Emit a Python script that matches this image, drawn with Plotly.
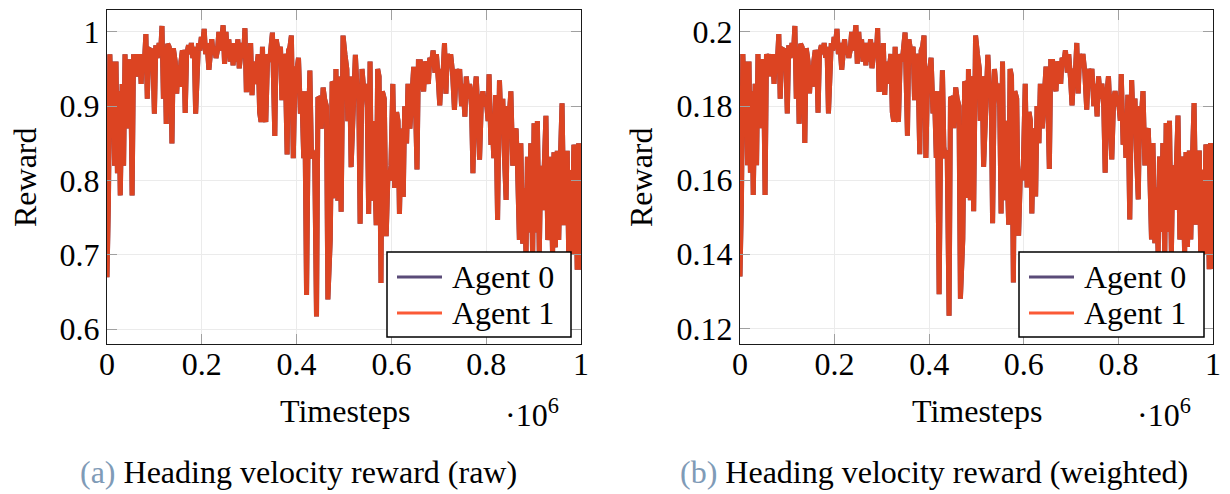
import plotly.graph_objects as go

# ---------------- data ----------------
# timesteps in units of 1e6
timesteps = [
    0.000, 0.003, 0.006, 0.009, 0.012, 0.016, 0.019, 0.022, 0.025, 0.028,
    0.032, 0.035, 0.038, 0.041, 0.044, 0.047, 0.050, 0.053, 0.056, 0.059,
    0.062, 0.066, 0.069, 0.072, 0.075, 0.079, 0.082, 0.085, 0.088, 0.091,
    0.094, 0.097, 0.100, 0.103, 0.106, 0.110, 0.113, 0.116, 0.119, 0.122,
    0.125, 0.128, 0.131, 0.134, 0.137, 0.140, 0.144, 0.147, 0.150, 0.153,
    0.156, 0.159, 0.162, 0.165, 0.168, 0.172, 0.175, 0.178, 0.181, 0.184,
    0.187, 0.190, 0.193, 0.196, 0.199, 0.202, 0.205, 0.208, 0.211, 0.215,
    0.218, 0.221, 0.224, 0.227, 0.230, 0.233, 0.236, 0.239, 0.242, 0.245,
    0.248, 0.251, 0.254, 0.257, 0.260, 0.263, 0.266, 0.269, 0.272, 0.276,
    0.279, 0.282, 0.285, 0.288, 0.291, 0.294, 0.297, 0.300, 0.303, 0.306,
    0.309, 0.312, 0.316, 0.319, 0.322, 0.325, 0.328, 0.331, 0.335, 0.339,
    0.343, 0.349, 0.354, 0.357, 0.362, 0.366, 0.369, 0.372, 0.376, 0.380,
    0.383, 0.386, 0.389, 0.393, 0.397, 0.401, 0.404, 0.408, 0.411, 0.415,
    0.417, 0.421, 0.424, 0.428, 0.431, 0.434, 0.438, 0.442, 0.445, 0.449,
    0.452, 0.456, 0.459, 0.463, 0.466, 0.471, 0.475, 0.478, 0.481, 0.483,
    0.487, 0.490, 0.494, 0.498, 0.502, 0.506, 0.508, 0.512, 0.515, 0.519,
    0.524, 0.527, 0.531, 0.534, 0.538, 0.542, 0.545, 0.549, 0.552, 0.555,
    0.558, 0.562, 0.565, 0.568, 0.571, 0.574, 0.578, 0.581, 0.585, 0.589,
    0.593, 0.596, 0.599, 0.603, 0.607, 0.611, 0.614, 0.617, 0.621, 0.625,
    0.628, 0.632, 0.635, 0.639, 0.643, 0.647, 0.650, 0.654, 0.657, 0.661,
    0.665, 0.668, 0.671, 0.674, 0.678, 0.681, 0.685, 0.688, 0.692, 0.695,
    0.699, 0.702, 0.706, 0.709, 0.712, 0.715, 0.718, 0.722, 0.725, 0.729,
    0.733, 0.737, 0.741, 0.744, 0.748, 0.751, 0.755, 0.758, 0.762, 0.765,
    0.769, 0.772, 0.776, 0.779, 0.783, 0.786, 0.790, 0.793, 0.797, 0.800,
    0.804, 0.806, 0.810, 0.813, 0.816, 0.820, 0.824, 0.828, 0.831, 0.835,
    0.838, 0.842, 0.845, 0.849, 0.852, 0.856, 0.859, 0.863, 0.866, 0.870,
    0.873, 0.877, 0.880, 0.884, 0.887, 0.891, 0.894, 0.898, 0.901, 0.905,
    0.908, 0.912, 0.915, 0.919, 0.922, 0.926, 0.930, 0.933, 0.936, 0.940,
    0.943, 0.946, 0.950, 0.953, 0.957, 0.960, 0.964, 0.967, 0.971, 0.974,
    0.978, 0.981, 0.985, 0.988, 0.992, 0.995, 1.000,
]

reward_raw = [
    0.67, 0.77, 0.97, 0.90, 0.96, 0.82, 0.96, 0.81, 0.92, 0.78,
    0.93, 0.82, 0.97, 0.87, 0.96, 0.96, 0.95, 0.78, 0.97, 0.95,
    0.97, 0.94, 0.97, 0.93, 0.97, 0.96, 0.997, 0.91, 0.97, 0.976,
    0.975, 0.96, 0.89, 0.982, 0.965, 0.985, 0.97, 1.008, 0.91, 0.98,
    0.876, 0.984, 0.98, 0.97, 0.85, 0.978, 0.96, 0.917, 0.955, 0.926,
    0.96, 0.975, 0.97, 0.891, 0.97, 0.982, 0.97, 0.985, 0.965, 0.98,
    0.89, 0.97, 0.985, 0.975, 0.993, 0.985, 1.004, 0.97, 0.985, 0.949,
    0.985, 0.99, 0.97, 0.98, 0.965, 0.975, 1.0, 0.975, 0.99, 1.009,
    0.957, 1.0, 0.97, 0.99, 0.96, 0.985, 0.955, 0.985, 0.96, 0.99,
    0.951, 0.98, 0.985, 0.965, 1.005, 0.919, 0.98, 0.92, 0.985, 0.915,
    0.96, 0.93, 0.96, 0.97, 0.892, 0.879, 0.98, 0.89, 0.879, 0.97,
    0.96, 0.999, 0.86, 0.99, 0.97, 0.98, 0.908, 0.97, 0.96, 0.835,
    0.975, 0.98, 0.995, 0.83, 0.95, 0.95, 0.965, 0.89, 0.92, 0.83,
    0.92, 0.646, 0.84, 0.948, 0.845, 0.83, 0.84, 0.617, 0.912, 0.91,
    0.87, 0.925, 0.91, 0.90, 0.64, 0.72, 0.933, 0.93, 0.776, 0.95,
    0.773, 0.94, 0.758, 0.995, 0.97, 0.95, 0.88, 0.94, 0.818, 0.91,
    0.969, 0.93, 0.92, 0.742, 0.95, 0.92, 0.93, 0.90, 0.755, 0.96,
    0.773, 0.88, 0.82, 0.74, 0.95, 0.94, 0.662, 0.92, 0.91, 0.725,
    0.814, 0.80, 0.82, 0.93, 0.79, 0.892, 0.88, 0.755, 0.87, 0.778,
    0.90, 0.85, 0.93, 0.87, 0.91, 0.953, 0.925, 0.815, 0.96, 0.96,
    0.93, 0.92, 0.96, 0.955, 0.93, 0.965, 0.96, 0.975, 0.945, 0.97,
    0.935, 0.901, 0.95, 0.945, 0.985, 0.917, 0.97, 0.96, 0.97, 0.945,
    0.895, 0.95, 0.935, 0.95, 0.90, 0.93, 0.886, 0.94, 0.91, 0.93,
    0.90, 0.81, 0.92, 0.94, 0.881, 0.828, 0.91, 0.92, 0.90, 0.91,
    0.88, 0.943, 0.848, 0.875, 0.83, 0.915, 0.747, 0.935, 0.88, 0.91,
    0.84, 0.774, 0.90, 0.89, 0.92, 0.82, 0.863, 0.87, 0.82, 0.72,
    0.85, 0.715, 0.79, 0.70, 0.832, 0.73, 0.85, 0.695, 0.877, 0.73,
    0.88, 0.70, 0.82, 0.76, 0.81, 0.887, 0.72, 0.74, 0.832, 0.70,
    0.838, 0.71, 0.84, 0.72, 0.84, 0.904, 0.74, 0.80, 0.84, 0.70,
    0.814, 0.70, 0.848, 0.84, 0.68, 0.85, 0.68,
]

reward_weighted = [
    0.134, 0.154, 0.194, 0.180, 0.192, 0.164, 0.192, 0.162, 0.184, 0.156,
    0.186, 0.164, 0.194, 0.174, 0.192, 0.192, 0.190, 0.156, 0.194, 0.190,
    0.194, 0.188, 0.194, 0.186, 0.194, 0.192, 0.1994, 0.182, 0.194, 0.1952,
    0.195, 0.192, 0.178, 0.1964, 0.193, 0.197, 0.194, 0.2016, 0.182, 0.196,
    0.1752, 0.1968, 0.196, 0.194, 0.170, 0.1956, 0.192, 0.1834, 0.191, 0.1852,
    0.192, 0.195, 0.194, 0.1782, 0.194, 0.1964, 0.194, 0.197, 0.193, 0.196,
    0.178, 0.194, 0.197, 0.195, 0.1986, 0.197, 0.2008, 0.194, 0.197, 0.1898,
    0.197, 0.198, 0.194, 0.196, 0.193, 0.195, 0.200, 0.195, 0.198, 0.2018,
    0.1914, 0.200, 0.194, 0.198, 0.192, 0.197, 0.191, 0.197, 0.192, 0.198,
    0.1902, 0.196, 0.197, 0.193, 0.201, 0.1838, 0.196, 0.184, 0.197, 0.183,
    0.192, 0.186, 0.192, 0.194, 0.1784, 0.1758, 0.196, 0.178, 0.1758, 0.194,
    0.192, 0.1998, 0.172, 0.198, 0.194, 0.196, 0.1816, 0.194, 0.192, 0.167,
    0.195, 0.196, 0.199, 0.166, 0.190, 0.190, 0.193, 0.178, 0.184, 0.166,
    0.184, 0.1292, 0.168, 0.1896, 0.169, 0.166, 0.168, 0.1234, 0.1824, 0.182,
    0.174, 0.185, 0.182, 0.180, 0.128, 0.144, 0.1866, 0.186, 0.1552, 0.190,
    0.1546, 0.188, 0.1516, 0.199, 0.194, 0.190, 0.176, 0.188, 0.1636, 0.182,
    0.1938, 0.186, 0.184, 0.1484, 0.190, 0.184, 0.186, 0.180, 0.151, 0.192,
    0.1546, 0.176, 0.164, 0.148, 0.190, 0.188, 0.1324, 0.184, 0.182, 0.145,
    0.1628, 0.160, 0.164, 0.186, 0.158, 0.1784, 0.176, 0.151, 0.174, 0.1556,
    0.180, 0.170, 0.186, 0.174, 0.182, 0.1906, 0.185, 0.163, 0.192, 0.192,
    0.186, 0.184, 0.192, 0.191, 0.186, 0.193, 0.192, 0.195, 0.189, 0.194,
    0.187, 0.1802, 0.190, 0.189, 0.197, 0.1834, 0.194, 0.192, 0.194, 0.189,
    0.179, 0.190, 0.187, 0.190, 0.180, 0.186, 0.1772, 0.188, 0.182, 0.186,
    0.180, 0.162, 0.184, 0.188, 0.1762, 0.1656, 0.182, 0.184, 0.180, 0.182,
    0.176, 0.1886, 0.1696, 0.175, 0.166, 0.183, 0.1494, 0.187, 0.176, 0.182,
    0.168, 0.1548, 0.180, 0.178, 0.184, 0.164, 0.1726, 0.174, 0.164, 0.144,
    0.170, 0.143, 0.158, 0.140, 0.1664, 0.146, 0.170, 0.139, 0.1754, 0.146,
    0.176, 0.140, 0.164, 0.152, 0.162, 0.1774, 0.144, 0.148, 0.1664, 0.140,
    0.1676, 0.142, 0.168, 0.144, 0.168, 0.1808, 0.148, 0.160, 0.168, 0.140,
    0.1628, 0.140, 0.1696, 0.168, 0.136, 0.170, 0.136,
]

agent_names = ["Agent 0", "Agent 1"]
x_tickvals = [0, 0.2, 0.4, 0.6, 0.8, 1.0]
x_ticktext = ["0", "0.2", "0.4", "0.6", "0.8", "1"]
y_raw_tickvals = [0.6, 0.7, 0.8, 0.9, 1.0]
y_raw_ticktext = ["0.6", "0.7", "0.8", "0.9", "1"]
y_w_tickvals = [0.12, 0.14, 0.16, 0.18, 0.20]
y_w_ticktext = ["0.12", "0.14", "0.16", "0.18", "0.2"]
captions = ["Heading velocity reward (raw)", "Heading velocity reward (weighted)"]

# ---------------- styling ----------------
# the page body has an 8px default margin; the figure is sized to fit the window
OFF = 8
W, H = 1230 - OFF, 494 - OFF
FONT = "Liberation Serif"
FS = 32
C_AGENT0 = "#5a4b78"
C_AGENT1_LEG = "#fb5a36"
C_LINE = "#dc4422"
LINE_W = 5


def px_x(p):
    """window pixel -> paper fraction"""
    return (p - OFF) / W


def px_y(p):
    return 1 - (p - OFF) / H


fig = go.Figure()

panels = [
    ("x", "y", reward_raw),
    ("x2", "y2", reward_weighted),
]
for xa, ya, vals in panels:
    # Agent 0 (drawn first, hidden underneath Agent 1: both agents get the same reward)
    fig.add_trace(go.Scatter(x=timesteps, y=vals, xaxis=xa, yaxis=ya, mode="lines",
                             name=agent_names[0], line=dict(color=C_AGENT0, width=LINE_W),
                             showlegend=False, hoverinfo="skip"))
    fig.add_trace(go.Scatter(x=timesteps, y=vals, xaxis=xa, yaxis=ya, mode="lines",
                             name=agent_names[1], line=dict(color=C_LINE, width=LINE_W),
                             showlegend=False, hoverinfo="skip"))

axis_common = dict(
    showline=True, linecolor="#1a1a1a", linewidth=1.3, mirror="ticks",
    ticks="inside", ticklen=10, tickwidth=1.3, tickcolor="#a0a0a0",
    showgrid=True, gridcolor="#ebebeb", gridwidth=1, zeroline=False,
    automargin=False,
    tickfont=dict(family=FONT, size=FS, color="black"),
)

y_dom = [px_y(344), px_y(10)]
fig.update_layout(
    width=W, height=H,
    margin=dict(l=0, r=0, t=0, b=0),
    paper_bgcolor="white", plot_bgcolor="white",
    font=dict(family=FONT, size=FS, color="black"),
    showlegend=False,
    xaxis=dict(domain=[px_x(107), px_x(581)], range=[0, 1], anchor="y",
               tickvals=x_tickvals, ticktext=x_ticktext, ticklabelstandoff=-9,
               **axis_common),
    yaxis=dict(domain=y_dom, range=[0.58, 1.0295], anchor="x",
               tickvals=y_raw_tickvals, ticktext=y_raw_ticktext, **axis_common),
    xaxis2=dict(domain=[px_x(740), px_x(1213)], range=[0, 1], anchor="y2",
                tickvals=x_tickvals, ticktext=x_ticktext, ticklabelstandoff=-9,
                **axis_common),
    yaxis2=dict(domain=y_dom, range=[0.1158, 0.2059], anchor="x2",
                tickvals=y_w_tickvals, ticktext=y_w_ticktext, **axis_common),
)


def ann(text, x, y, size=FS, angle=0, color="black", xanchor="center"):
    fig.add_annotation(text=text, x=px_x(x), y=px_y(y), xref="paper", yref="paper",
                       xanchor=xanchor, yanchor="middle", showarrow=False,
                       textangle=angle, font=dict(family=FONT, size=size, color=color))


# legends (boxed, lower right of each panel)
for (bx0, bx1) in [(387, 571), (1019, 1204)]:
    fig.add_shape(type="rect", xref="paper", yref="paper", layer="above",
                  x0=px_x(bx0), x1=px_x(bx1), y0=px_y(337), y1=px_y(252),
                  fillcolor="white", line=dict(color="black", width=1.5))
    for name, col, yy in [(agent_names[0], C_AGENT0, 277), (agent_names[1], C_AGENT1_LEG, 313)]:
        fig.add_shape(type="line", xref="paper", yref="paper", layer="above",
                      x0=px_x(bx0 + 10), x1=px_x(bx0 + 55), y0=px_y(yy), y1=px_y(yy),
                      line=dict(color=col, width=3))
        ann(name, bx0 + 63, yy, xanchor="left")

# y titles
ann("Reward", 25, 177, angle=-90)
ann("Reward", 641, 177, angle=-90)
# x titles
ann("Timesteps", 345, 411)
ann("Timesteps", 977, 411)
ann("·10<sup>6</sup>", 532, 413)
ann("·10<sup>6</sup>", 1164, 413)
# captions
ann("<span style='color:#7f9bb7'>(a)</span> " + captions[0], 298, 472)
ann("<span style='color:#7f9bb7'>(b)</span> " + captions[1], 934, 472)

fig.write_html("out.html")
